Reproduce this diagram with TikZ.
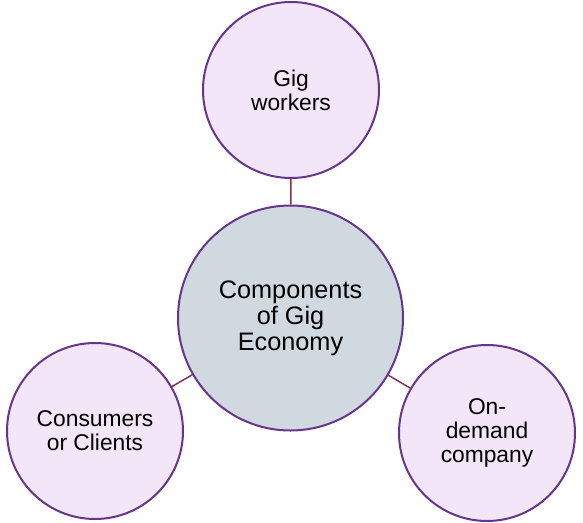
\documentclass[tikz,border=0pt]{standalone}
\usepackage{fontspec}
\setmainfont{Liberation Sans}
\usepackage{tikz}

\definecolor{ringpurple}{HTML}{67358C}
\definecolor{partfill}{HTML}{F2E6F8}
\definecolor{hubfill}{HTML}{CFD9DF}
\definecolor{linkred}{HTML}{7E3350}

\begin{document}
\begin{tikzpicture}[x=1pt,y=-1pt,
    part/.style={circle, draw=ringpurple, line width=2pt, fill=partfill,
        minimum size=176pt, inner sep=0pt, align=center,
        font=\fontsize{22.8}{24}\selectfont},
    hub/.style={circle, draw=ringpurple, line width=2pt, fill=hubfill,
        minimum size=225pt, inner sep=0pt, align=center,
        font=\fontsize{25.3}{26}\selectfont},
    link/.style={draw=linkred, line width=1.5pt}]
    \useasboundingbox (0,0) rectangle (583,522);
    \node[hub] (economy) at (290.5,318) {Components\\of Gig\\Economy};
    \node[part] (workers) at (291,90) {Gig\\workers};
    \node[part] (clients) at (95,431) {Consumers\\or Clients};
    \node[part] (company) at (487,433) {On-\\demand\\company};
    \draw[link] (economy) -- (workers);
    \draw[link] (economy) -- (clients);
    \draw[link] (economy) -- (company);
\end{tikzpicture}
\end{document}
